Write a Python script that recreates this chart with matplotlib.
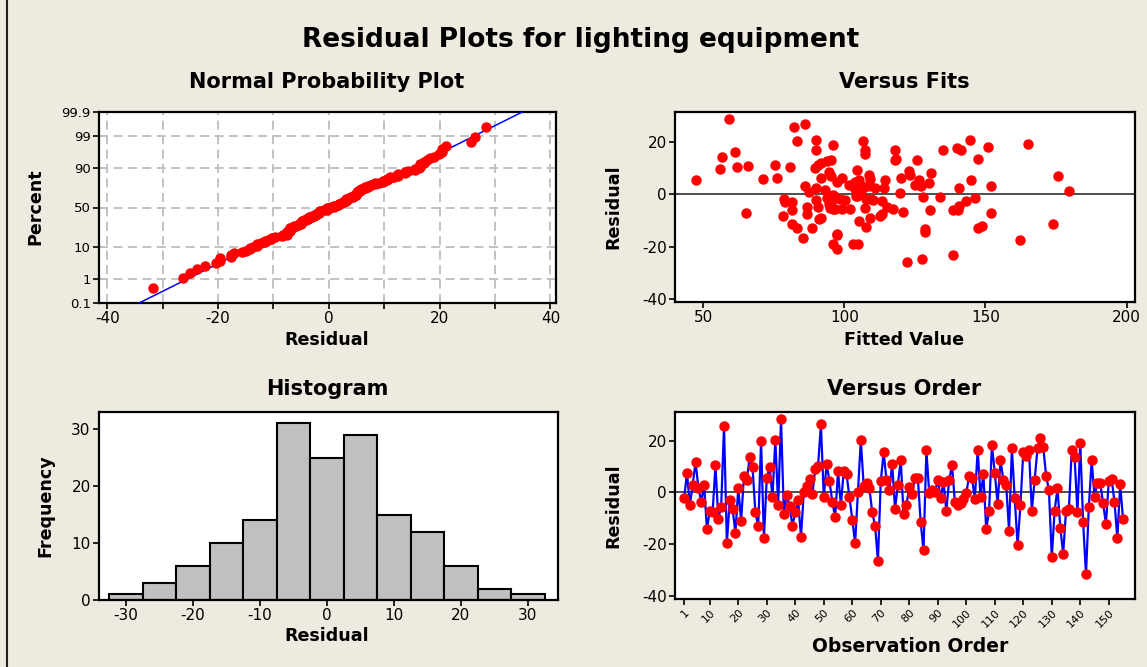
import matplotlib
matplotlib.use("Agg")
import matplotlib.pyplot as plt
import numpy as np
from statistics import NormalDist
from matplotlib.lines import Line2D

# residuals in observation order
order_resid = [
    -2.3, 7.6, -4.9, 3.0, 11.8, 1.9, -3.6, 3.0, -14.3, -7.1, -7.6, 10.5, -10.3, -5.6, 25.7, -19.6,
    -3.1, -6.3, -15.6, 1.8, -11.0, 6.5, 4.9, 13.7, 9.7, -7.6, -13.0, 19.8, -17.7, 5.7, 9.7,
    -1.7, 20.4, -4.9, 28.4, -8.3, -0.9, -5.4, -12.9, -7.6, -3.1, -17.1, 0.1, 2.5, 5.2, -0.4,
    9.0, 10.3, 26.4, -1.7, 11.1, 4.4, -3.6, -9.7, 8.3, -5.0, 8.3, 7.0, -1.7, -10.5, -19.6, 0.3, 20.4,
    2.6, 3.5, 1.7, -7.6, -12.9, -26.4, 4.3, 15.6, 4.9, 1.0, 11.0, -6.3, 3.0, 12.5, -8.4, -5.0,
    2.3, -0.4, 5.8, 5.8, -11.6, -22.4, 16.4, -0.3, 1.0, 0.1, 4.9, -2.2, 4.0, -7.1, 4.9, 10.5, -3.7,
    -5.0, -4.1, -2.6, -0.3, 6.5, 5.6, -2.5, 16.4, -1.6, 7.1, -14.3, -7.1, 18.3, 7.6, -4.4, 12.4,
    5.0, 3.0, -14.9, 17.1, -2.3, -20.4, -4.9, 15.6, 14.3, 16.3, -7.1, 5.0, 17.1, 21.1, 17.7, 6.5,
    1.0, -25.1, -7.1, 1.7, -13.7, -23.8, -7.1, -6.5, 16.4, 13.7, -7.6, 19.0, -11.6, -31.8, -5.6,
    12.4, -1.6, 3.6, 3.6, -4.1, -12.2, 4.5, 5.2, -3.6, -17.7, 3.1, -10.3,
]

# fitted value / residual pairs (Versus Fits panel)
fitted = [
    47.4, 55.8, 56.5, 59.3, 61.3, 62.1, 65.0, 65.7,
    71.1, 75.6, 76.3, 80.6, 82.0, 86.2, 83.4, 78.7, 79.1, 81.5, 81.3, 78.4, 81.3, 83.4, 85.5, 86.9,
    86.9, 86.2, 87.6, 88.6, 89.8, 89.8, 89.5, 89.8, 90.0, 90.5, 91.2, 91.9, 91.9, 90.5, 91.9, 93.8,
    95.4, 96.1, 94.5, 95.2, 93.3, 93.8, 94.7, 95.6, 96.4, 95.9, 96.8, 96.4, 97.3, 96.1, 97.5, 99.0,
    97.5, 98.5, 99.0, 100.4, 102.0, 102.7, 103.7, 104.6, 103.7, 105.1, 105.6, 104.6, 105.6, 103.2,
    104.9, 105.1, 106.7, 107.4, 107.4, 107.7, 107.4, 107.7, 108.6, 109.1, 108.9, 109.3, 109.1, 111.0,
    112.6, 113.3, 113.3, 114.5, 114.1, 115.2, 117.4, 118.3, 118.1, 117.8, 119.7, 120.2, 120.9, 122.3,
    123.0, 123.3, 125.9, 125.1, 126.5, 127.3, 128.0, 127.5, 128.7, 128.7, 130.3, 130.1, 130.8, 133.9,
    135.0, 138.6, 138.6, 139.8, 140.5,
    106.2, 108.5, 101.8, 110.0, 96.1, 94.9, 97.4, 104.0,
    140.5, 141.4, 143.0, 144.7, 144.9, 146.2, 147.3, 147.4, 148.9, 150.8, 152.1, 152.1, 162.2, 165.0,
    174.1, 175.8, 179.7, 140.3,
]
fit_resid = [
    5.6, 9.6, 14.1, 28.6, 16.1, 10.3, -7.3, 10.8,
    5.7, 11.0, 6.3, 10.3, 25.5, 26.6, 20.2, -1.8, -3.0, -3.0, -6.1, -8.1, -11.2, -12.7, -16.5, -4.7,
    -7.6, 3.0, 0.8, -12.9, 20.8, 16.7, 10.1, 2.4, -2.0, -4.8, -9.6, -9.0, 6.2, 11.3, 11.9, 12.5,
    12.9, 18.9, 8.4, 6.8, 1.8, -1.4, -3.7, -2.0, -1.0, -5.8, -5.8, -0.5, -15.5, -19.1, -21.0, 6.2,
    4.6, -1.8, -5.8, -2.3, -5.6, 3.7, 4.6, 9.1, 2.0, 5.6, 3.7, -0.5, 0.5, -19.0,
    -19.0, -10.0, 20.2, 16.7, 15.2, -1.8, -5.2, -12.4, 7.5, 5.8, 3.7, -1.8, -8.9, 2.2,
    -8.1, -7.4, -2.7, 5.6, 2.3, -4.8, -5.8, 13.4, 17.0, 12.9, 0.5, 6.2, -6.8, -25.9,
    8.7, 7.5, 12.9, 3.7, 5.3, 3.3, -1.0, -24.6, -13.4, -14.4, -6.1, 4.3, 7.9, -1.0,
    16.7, -23.3, -6.1, 17.5, 2.4,
    2.0, 3.0, 3.4, -2.0, -0.1, -5.2, -15.1, -0.5,
    -4.3, 16.7, -2.7, 20.8, 5.6, -1.6, 13.4, -12.7, -12.2, 18.0, 3.0, -7.0, -17.3, 19.2,
    -11.4, 7.0, 1.1, -6.1,
]

# histogram bins (centres) and counts
hist_centers = [-30, -25, -20, -15, -10, -5, 0, 5, 10, 15, 20, 25, 30]
hist_counts = [1, 3, 6, 10, 14, 31, 25, 29, 15, 12, 6, 2, 1]

plt.rcParams['font.family'] = 'DejaVu Sans'
plt.rcParams['axes.unicode_minus'] = False

BG = '#EEEAE0'
W, H = 1147, 667
fig = plt.figure(figsize=(W / 100, H / 100), dpi=100, facecolor=BG)


def box(l, t, r, b):
    return [l / W, 1 - b / H, (r - l) / W, (b - t) / H]


def style(ax):
    for s in ax.spines.values():
        s.set_linewidth(1.6)
        s.set_color('black')
    ax.tick_params(direction='out', length=4, width=1.2, labelsize=11, colors='black', pad=2)


def ftext(x, y, s, **kw):
    fig.text(x / W, 1 - y / H, s, ha='center', va='center', **kw)


# ---- Normal probability plot
ax1 = fig.add_axes(box(99, 112, 556, 303))
style(ax1)
r = np.sort(np.array(order_resid))
n = len(r)
nd = NormalDist()
p = (np.arange(1, n + 1) - 0.3) / (n + 0.4)
z = np.array([nd.inv_cdf(v) for v in p])
m, s = r.mean(), r.std(ddof=1)
zlo, zhi = nd.inv_cdf(0.001), nd.inv_cdf(0.999)
ax1.plot([m + s * (zlo - 0.05), m + s * (zhi + 0.3)], [zlo - 0.05, zhi + 0.3], color='#0000FF', lw=1.1, zorder=3)
ax1.plot(r, z, 'o', color='#FF0000', ms=6.5, mec='#FF0000', zorder=4)
pct = [0.1, 1, 10, 50, 90, 99, 99.9]
ax1.set_yticks([nd.inv_cdf(v / 100) for v in pct])
ax1.set_yticklabels(['0.1', '1', '10', '50', '90', '99', '99.9'], fontsize=9.5)
ax1.set_ylim(zlo, zhi)
ax1.set_xlim(-41.5, 41)
ax1.set_xticks(range(-40, 41, 10))
ax1.set_xticklabels(['-40', '', '-20', '', '0', '', '20', '', '40'])
for xv in range(-40, 41, 10):
    ax1.axvline(xv, color='#BDBDBD', lw=1.3, ls=(0, (5, 3)), zorder=1)
for pv in pct[1:-1]:
    ax1.axhline(nd.inv_cdf(pv / 100), color='#BDBDBD', lw=1.3, ls=(0, (5, 3)), zorder=1)

# ---- Versus fits
ax2 = fig.add_axes(box(675, 112, 1135, 302))
style(ax2)
ax2.axhline(0, color='#404040', lw=1.3, zorder=2)
ax2.plot(fitted, fit_resid, 'o', color='#FF0000', ms=6.5, zorder=3)
ax2.set_xlim(40, 203)
ax2.set_ylim(-41, 31.3)
ax2.set_xticks([50, 100, 150, 200])
ax2.set_yticks([20, 0, -20, -40])

# ---- Histogram
ax3 = fig.add_axes(box(99, 412, 558, 600))
style(ax3)
ax3.bar(hist_centers, hist_counts, width=5, color='#C0C0C0', edgecolor='black', linewidth=1.5, zorder=2)
ax3.set_xlim(-34, 34.5)
ax3.set_ylim(0, 33)
ax3.set_xticks(range(-30, 31, 10))
ax3.set_yticks([0, 10, 20, 30])

# ---- Versus order
ax4 = fig.add_axes(box(675, 412, 1135, 599))
style(ax4)
obs = np.arange(1, len(order_resid) + 1)
ax4.axhline(0, color='#404040', lw=1.3, zorder=2)
ax4.plot(obs, order_resid, color='#0000FF', lw=1.6, zorder=3)
ax4.plot(obs, order_resid, 'o', color='#FF0000', ms=6.5, zorder=4)
ax4.set_xlim(-2.2, 159.2)
ax4.set_ylim(-41.3, 31.2)
ax4.set_yticks([20, 0, -20, -40])
oticks = [1] + list(range(10, 151, 10))
ax4.set_xticks(oticks)
ax4.set_xticklabels([str(t) for t in oticks], rotation=45, ha='right', va='top',
                    rotation_mode='anchor', fontsize=8)

# ---- titles and labels
ftext(581, 40, 'Residual Plots for lighting equipment', fontsize=19, fontweight='bold')
ftext(327, 82, 'Normal Probability Plot', fontsize=15, fontweight='bold')
ftext(904, 82, 'Versus Fits', fontsize=15, fontweight='bold')
ftext(327, 389, 'Histogram', fontsize=15, fontweight='bold')
ftext(904, 389, 'Versus Order', fontsize=15, fontweight='bold')
ftext(327, 340, 'Residual', fontsize=12.6, fontweight='bold')
ftext(904, 340, 'Fitted Value', fontsize=12.6, fontweight='bold')
ftext(327, 636, 'Residual', fontsize=12.6, fontweight='bold')
ftext(910, 647, 'Observation Order', fontsize=13.5, fontweight='bold')
ftext(35, 207, 'Percent', fontsize=12.6, fontweight='bold', rotation=90)
ftext(613, 207, 'Residual', fontsize=12.6, fontweight='bold', rotation=90)
ftext(45, 506, 'Frequency', fontsize=12.6, fontweight='bold', rotation=90)
ftext(613, 506, 'Residual', fontsize=12.6, fontweight='bold', rotation=90)

# window border on the left
fig.add_artist(Line2D([6.5 / W, 6.5 / W], [0, 1], color='#202020', lw=1.5))

fig.savefig('out.png', dpi=100, facecolor=BG)
